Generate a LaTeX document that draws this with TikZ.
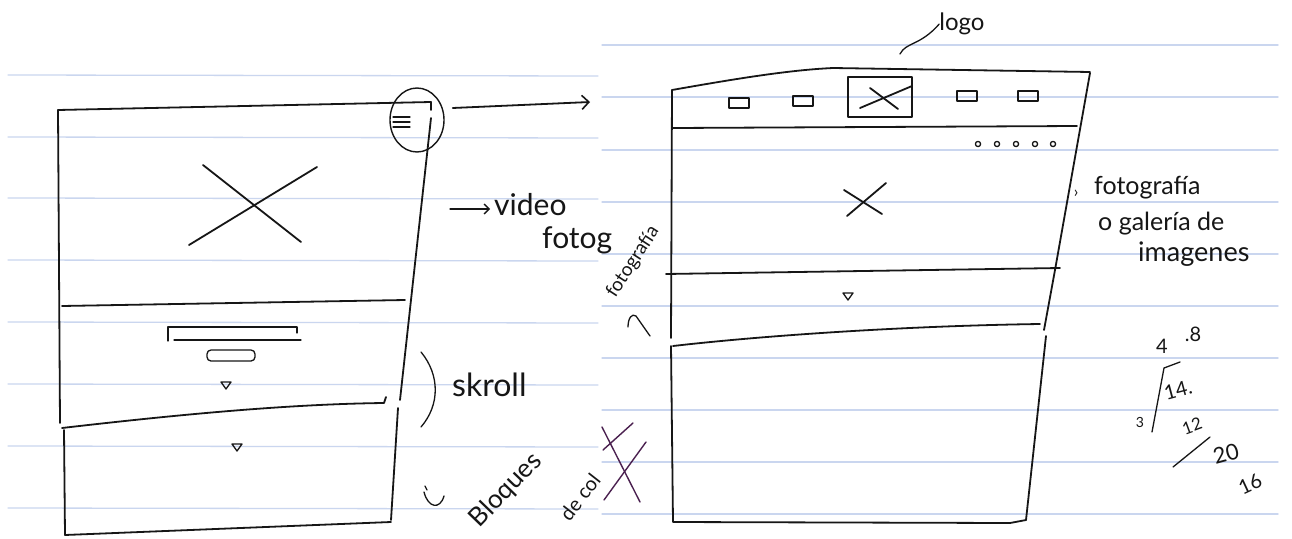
\documentclass[tikz,border=0pt]{standalone}
\usepackage{fontspec}
\setmainfont{Lato}
\usetikzlibrary{positioning, arrows.meta, shapes.geometric}
\definecolor{ruled}{HTML}{CAD6EF}
\definecolor{ink}{HTML}{161616}
\definecolor{plum}{HTML}{4B2150}

\tikzset{
  downtri/.pic={\draw[fine] (-5,-3) -- (5,-3) -- (0,4) -- cycle;},
  navbox/.pic={\draw[fine] (-10,-5) rectangle (10,5);},
}

\begin{document}
\begin{tikzpicture}[x=1pt, y=-1pt, line cap=round, line join=round,
    pen/.style={draw=ink, line width=1.8pt},
    fine/.style={draw=ink, line width=1.3pt},
    rule/.style={draw=ruled, line width=1.3pt},
    hand/.style={text=ink, inner sep=0pt, font=\fontsize{#1}{#1}\selectfont},
    barb/.style={-{Straight Barb[length=7pt, width=14pt, line width=1.6pt]}}]
  \fill[white] (0,0) rectangle (1292,538);
  \useasboundingbox (0,0) rectangle (1292,538);

  % ruled paper
  \foreach \yy in {75,137,198,260,322,384,446,508}
    \draw[rule] (8,\yy) -- (598,\yy+1);
  \foreach \yy in {45,97,150,202,254,306,358,410,462,514}
    \draw[rule] (602,\yy) -- (1278,\yy);

  % mobile sketch
  \draw[pen] (58,110) -- (431,102) -- (431,110);
  \draw[pen] (431,118) -- (400,400);
  \draw[pen] (398,408) -- (391,520);
  \draw[pen] (58,110) -- (60,423);
  \draw[pen] (62,306) -- (405,300);
  \draw[pen] (62,428) .. controls (200,412) and (300,404) .. (384,403) -- (386,397);
  \draw[pen] (64,430) -- (65,535) -- (391,522);

  \node[draw=ink, line width=1.4pt, ellipse, minimum width=54pt, minimum height=64pt, inner sep=0pt] (menu) at (417,120) {};
  \foreach \yy in {117,122,127}
    \draw[fine] (393,\yy) -- (410,\yy);
  \coordinate (desktop) at (590,102);
  \draw[pen, barb] (menu.east) ++(8,-12) -- (desktop);

  \draw[pen] (203,165) -- (301,242);
  \draw[pen] (189,245) -- (317,167);

  \draw[fine] (168,341) -- (168,327) -- (297,327) -- (297,333);
  \draw[fine] (174,340) -- (301,340);
  \draw[fine, rounded corners=4pt] (207,350) rectangle (255,361);
  \pic at (226,385) {downtri};
  \pic at (237,447) {downtri};

  \node[hand=30, anchor=west] (video) at (494,205) {video};
  \node[hand=30, anchor=west] (fotog) at (542,240) {fotog};
  \coordinate (vidtail) at (450,209);
  \draw[fine, -{Straight Barb[length=5pt, width=10pt]}] (vidtail) -- ([xshift=-4pt, yshift=-4pt]video.west);

  \draw[fine] (421,352) .. controls (440,375) and (440,405) .. (421,427);
  \node[hand=32, anchor=west] (skroll) at (452,385) {skroll};

  \node[hand=26, rotate=46] (bloques) at (506,490) {Bloques};
  \node[hand=20, rotate=52] (decol) at (580,497) {de col};
  \draw[fine] (424,492) .. controls (428,508) and (440,510) .. (444,496);
  \draw[fine] (425,486) -- (427,490);
  \draw[plum, line width=1.4pt] (602,427) -- (640,502);
  \draw[plum, line width=1.4pt] (646,442) -- (604,500);
  \draw[plum, line width=1.4pt] (603,450) -- (633,423);

  % desktop sketch
  \draw[pen] (672,90) .. controls (740,78) and (790,70) .. (833,68) -- (1090,72);
  \draw[pen] (672,90) -- (671,338);
  \draw[pen] (1090,73) -- (1055,270) -- (1044,330);
  \draw[pen] (1046,336) -- (1026,520);
  \draw[pen] (673,128) -- (1077,126);
  \draw[pen] (666,274) -- (1060,268);
  \draw[pen] (673,346) .. controls (760,336) and (900,326) .. (1040,324);
  \draw[pen] (671,346) -- (673,522) -- (1010,523) -- (1026,520);

  \foreach \xx/\yy in {739/103, 803/101, 967/96, 1028/96}
    \pic at (\xx,\yy) {navbox};
  \node[draw=ink, line width=1.6pt, minimum width=64pt, minimum height=40pt, inner sep=0pt] (logobox) at (880,97) {};
  \draw[pen] (860,108) -- (912,86);
  \draw[pen] (870,88) -- (898,109);
  \foreach \xx in {978,997,1016,1035,1053}
    \draw[fine] (\xx,144) circle (2.6);

  \draw[pen] (844,190) -- (882,214);
  \draw[pen] (847,216) -- (886,183);
  \pic at (848,296) {downtri};

  \node[hand=24] (logo) at (962,24) {logo};
  \coordinate (logotail) at (900,54);
  \draw[fine] (logotail) .. controls (906,42) and (920,46) .. (logo.west);

  \node[hand=16] (gt) at (1076,194) {›};
  \node[hand=25, anchor=west] (foto) at (1094,188) {fotografía};
  \node[hand=25, anchor=west] (galeria) at (1098,224) {o galería de};
  \node[hand=27, anchor=west] (imagenes) at (1138,254) {imagenes};

  \node[hand=19, rotate=57] (fotoside) at (633,262) {fotografía};
  \draw[fine] (628,327) .. controls (628,318) and (632,313) .. (636,316) -- (650,336);

  % scribbled sum
  \node[hand=20] (cuatro) at (1162,346) {4};
  \node[hand=20] (ocho) at (1193,334) {.8};
  \node[hand=20, rotate=15] (catorce) at (1178,390) {14.};
  \node[hand=14] (tres) at (1140,422) {3};
  \node[hand=17, rotate=20] (doce) at (1192,426) {12};
  \node[hand=22, rotate=15] (veinte) at (1226,454) {20};
  \node[hand=20, rotate=25] (dieciseis) at (1250,484) {16};
  \draw[fine] (1152,432) -- (1164,368) -- (1180,362);
  \draw[fine] (1173,467) -- (1210,437);
\end{tikzpicture}
\end{document}
